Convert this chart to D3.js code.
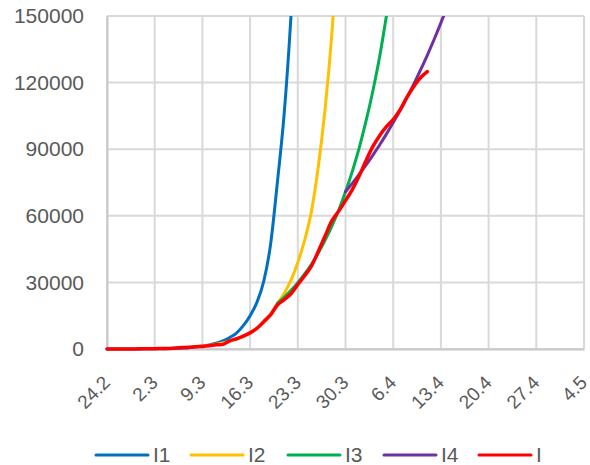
<!DOCTYPE html>
<html>
<head>
<meta charset="utf-8">
<script src="https://cdn.jsdelivr.net/npm/d3@7"></script>
<style>
  html, body { margin: 0; padding: 0; background: #fff; }
  svg { display: block; font-family: "Liberation Sans", Arial, sans-serif; }
</style>
</head>
<body>
<svg id="chart" width="590" height="465"></svg>
<script>
// ---- data ----
const xLabels = ["24.2","2.3","9.3","16.3","23.3","30.3","6.4","13.4","20.4","27.4","4.5"];
const xTickDays = [0,7,14,21,28,35,42,49,56,63,70];
const yTicks = [0,30000,60000,90000,120000,150000];

const seriesNames = ["I1","I2","I3","I4","I"];
const seriesColors = ["#0070C0","#FFC000","#00B050","#7030A0","#FF0000"];

// first day index of each series (day 0 = 24.2)
const I1Start = 0;
const I1 = [10,13,19,26,37,51,72,100,140,195,275,385,540,1000,1350,1850,2600,3700,5200,7200,
            10500,15000,21000,30500,47000,75000,106000,150000,210000];
const I2Start = 14;
const I2 = [1300,1650,2100,2700,3500,4500,5800,7400,9400,12100,15600,20500,25000,31000,39000,
            49000,62000,82000,108000,142000,186000];
const I3Start = 25;
const I3 = [20500,23300,26400,29900,33800,38200,43200,48900,55300,62500,70800,80000,90500,
            102500,116000,131500,150000,170000];
const I4Start = 35;
const I4 = [70800,74600,78600,82800,87200,91900,96800,102000,107400,113200,119200,125600,
            132300,139400,146900,154700];
const IStart = 0;
const I = [16,17,27,46,48,79,130,159,196,262,482,670,799,1040,1176,1457,1908,2078,3675,4585,
           5795,7272,9257,12327,15320,19848,22213,24873,29056,32986,37323,43938,50871,57695,
           62095,66885,71808,77872,84794,91159,96092,100123,103374,107663,113296,118181,
           122171,124908];

const seriesData = [[I1Start,I1],[I2Start,I2],[I3Start,I3],[I4Start,I4],[IStart,I]];

// ---- layout ----
const svg = d3.select("#chart");
const L = 107, R = 584, T = 16, B = 349;
const x = d3.scaleLinear().domain([0,70]).range([L,R]);
const y = d3.scaleLinear().domain([0,150000]).range([B,T]);
const textColor = "#595959";
const gridColor = "#d9d9d9";

svg.append("rect").attr("width",590).attr("height",465).attr("fill","#fff");

// gridlines
const grid = svg.append("g");
grid.selectAll("line.h").data(yTicks).enter().append("line")
  .attr("x1",L).attr("x2",R).attr("y1",d=>y(d)).attr("y2",d=>y(d))
  .attr("stroke",gridColor).attr("stroke-width",2);
grid.selectAll("line.v").data(xTickDays).enter().append("line")
  .attr("x1",d=>x(d)).attr("x2",d=>x(d)).attr("y1",T).attr("y2",B)
  .attr("stroke",gridColor).attr("stroke-width",2);

// axes
const yAxis = d3.axisLeft(y).tickValues(yTicks).tickSize(0).tickPadding(23)
  .tickFormat(d3.format("d"));
const gy = svg.append("g").attr("transform",`translate(${L},0)`).call(yAxis);
gy.select(".domain").attr("stroke","#c8c8c8").attr("stroke-width",2);
gy.selectAll("text").attr("fill",textColor).attr("font-size",21)
  .attr("font-family","Liberation Sans, Arial, sans-serif");

const xAxis = d3.axisBottom(x).tickValues(xTickDays).tickSize(0)
  .tickFormat((d,i)=>xLabels[i]);
const gx = svg.append("g").attr("transform",`translate(0,${B})`).call(xAxis);
gx.select(".domain").attr("stroke","#c8c8c8").attr("stroke-width",2);
gx.selectAll("text").attr("fill",textColor).attr("font-size",19)
  .attr("font-family","Liberation Sans, Arial, sans-serif")
  .attr("text-anchor","end").attr("dy","0.35em")
  .attr("transform","translate(-3,28) rotate(-45)");

// clip
svg.append("clipPath").attr("id","plotclip").append("rect")
  .attr("x",L-2).attr("y",T).attr("width",R-L+4).attr("height",B-T+4);

const lines = svg.append("g").attr("clip-path","url(#plotclip)");
seriesData.forEach(([start,vals],k)=>{
  const pts = vals.map((v,i)=>[start+i,v]);
  const gen = d3.line().x(d=>x(d[0])).y(d=>y(d[1]))
    .curve(k===4 ? d3.curveCatmullRom.alpha(0.5) : d3.curveMonotoneX);
  lines.append("path").datum(pts).attr("d",gen)
    .attr("fill","none").attr("stroke",seriesColors[k])
    .attr("stroke-width",k===4?3.5:3).attr("stroke-linejoin","round").attr("stroke-linecap","round");
});

// legend
const legendX = [96,191,288,384,479];
const legY = 455;
const lg = svg.append("g");
seriesNames.forEach((n,k)=>{
  lg.append("line").attr("x1",legendX[k]).attr("x2",legendX[k]+52)
    .attr("y1",legY).attr("y2",legY).attr("stroke",seriesColors[k])
    .attr("stroke-width",3).attr("stroke-linecap","round");
  lg.append("text").attr("x",legendX[k]+57).attr("y",legY).attr("dy","0.35em")
    .attr("fill",textColor).attr("font-size",21).text(n);
});
</script>
</body>
</html>
